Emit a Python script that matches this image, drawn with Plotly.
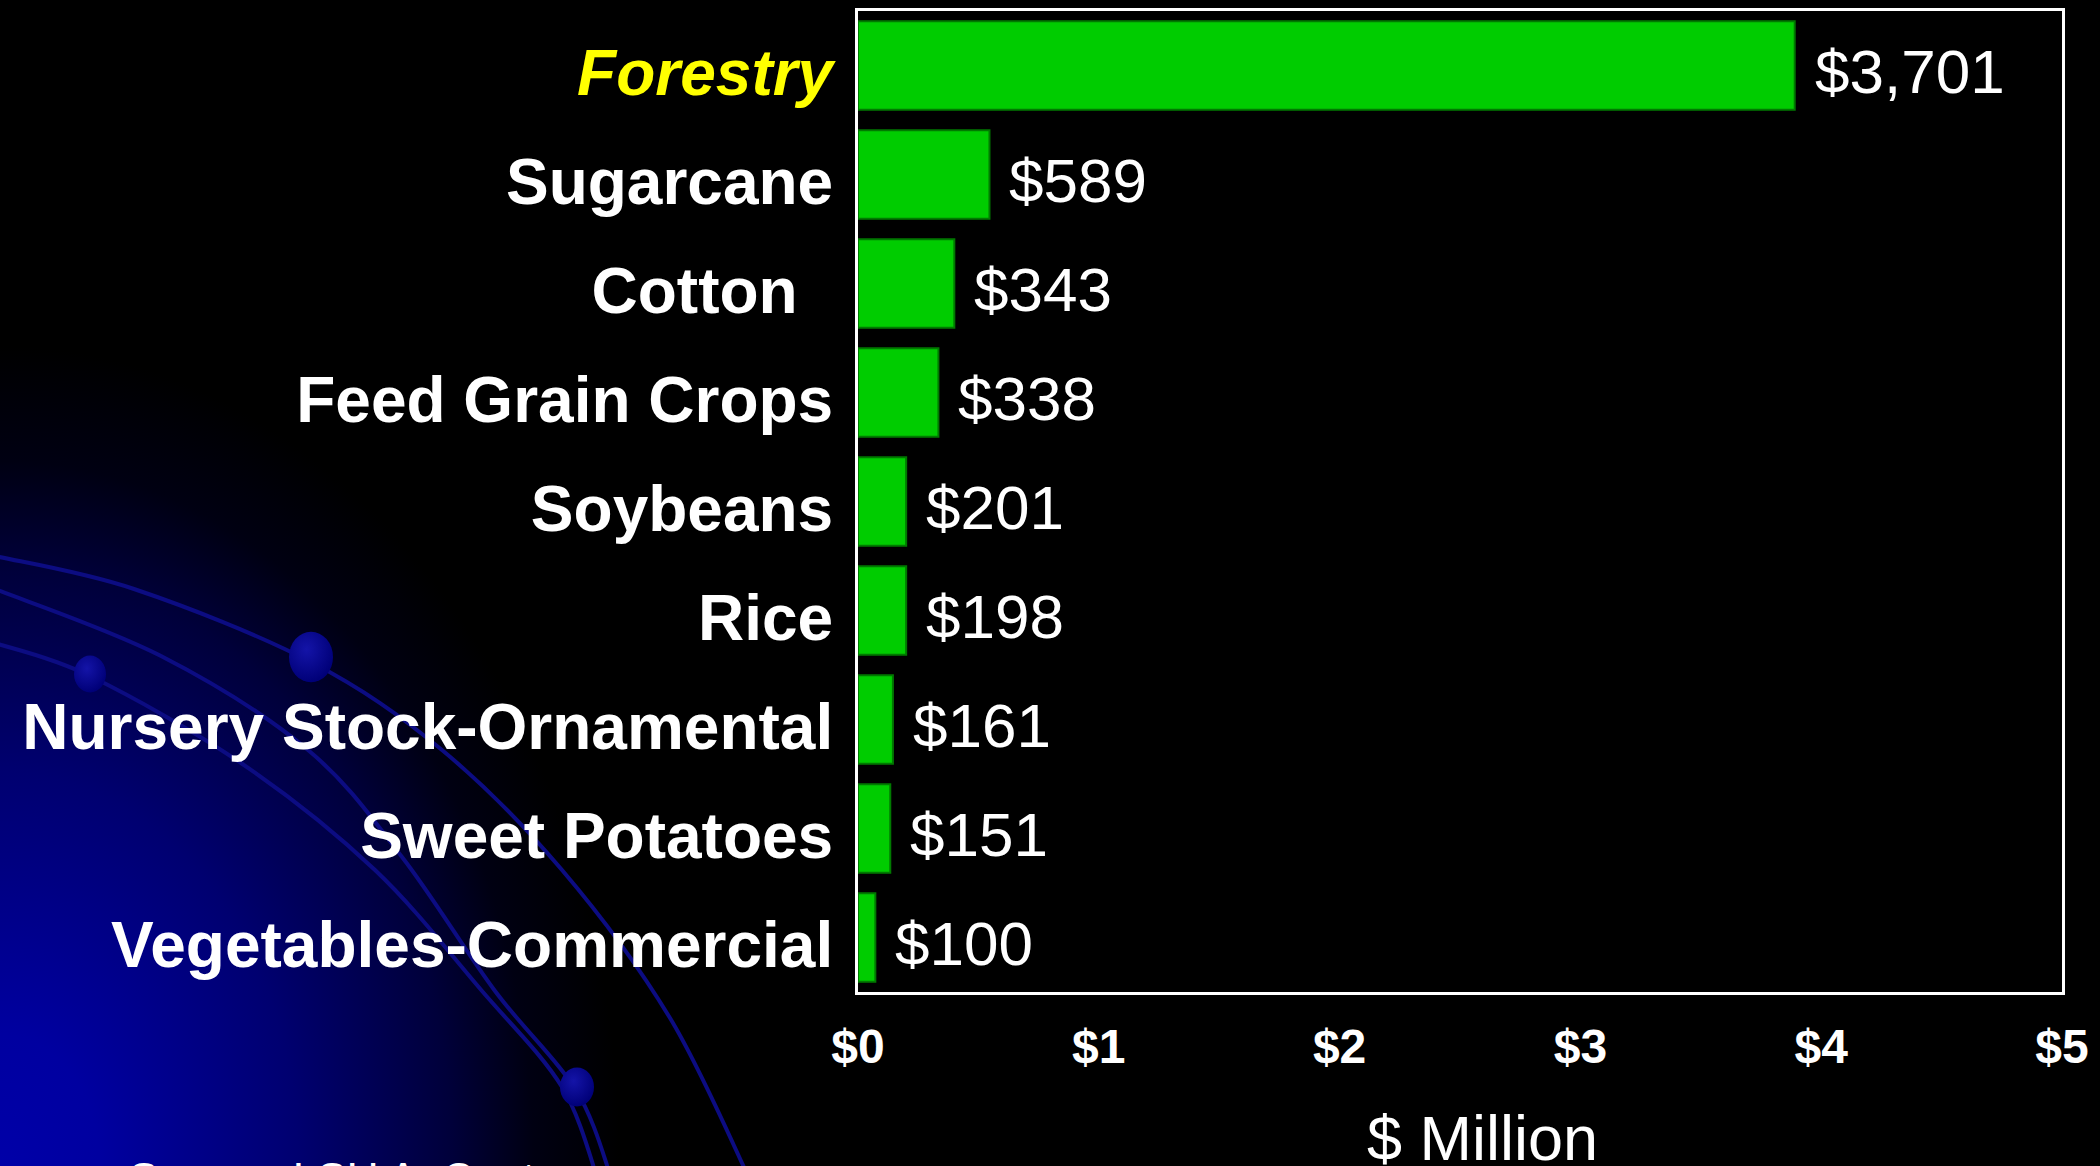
import base64
import plotly.graph_objects as go

# ---------------- data ----------------
categories = ["Forestry", "Sugarcane", "Cotton", "Feed Grain Crops", "Soybeans", "Rice",
              "Nursery Stock-Ornamental", "Sweet Potatoes", "Vegetables-Commercial"]
# bar lengths as drawn on the $ axis
bar_lengths = [3.89, 0.546, 0.40, 0.334, 0.20, 0.20, 0.145, 0.134, 0.072]
value_labels = ["$3,701", "$589", "$343", "$338", "$201", "$198", "$161", "$151", "$100"]
x_tick_vals = [0, 1, 2, 3, 4, 5]
x_tick_text = ["$0", "$1", "$2", "$3", "$4", "$5"]
axis_title = "$ Million"
source_text = "Source: LSU AgCenter"

W, H = 2100, 1166
ML, MR, MT, MB = 858, 38, 11, 174
PW, PH = W - ML - MR, H - MT - MB

FONT = "Liberation Sans, Arial, sans-serif"

# ---------------- decorative background (SVG) ----------------
def catmull(points):
    d = f"M{points[0][0]},{points[0][1]}"
    for i in range(len(points) - 1):
        p0 = points[i - 1] if i > 0 else points[i]
        p1 = points[i]
        p2 = points[i + 1]
        p3 = points[i + 2] if i + 2 < len(points) else points[i + 1]
        c1 = (p1[0] + (p2[0] - p0[0]) / 6, p1[1] + (p2[1] - p0[1]) / 6)
        c2 = (p2[0] - (p3[0] - p1[0]) / 6, p2[1] - (p3[1] - p1[1]) / 6)
        d += f" C{c1[0]:.1f},{c1[1]:.1f} {c2[0]:.1f},{c2[1]:.1f} {p2[0]},{p2[1]}"
    return d

curves = [
    [(-5, 556), (134, 589), (311, 662), (442, 750), (562, 870), (670, 1018), (750, 1180)],
    [(-5, 589), (161, 656), (308, 750), (402, 857), (495, 991), (576, 1090), (612, 1180)],
    [(-5, 643), (90, 676), (241, 763), (375, 870), (482, 991), (562, 1087), (598, 1180)],
]
balls = [(90, 674, 16), (311, 657, 22), (577, 1087, 17)]

RX, RY = 620, 820
svg = [f'<svg xmlns="http://www.w3.org/2000/svg" width="{W}" height="{H}" viewBox="0 0 {W} {H}" preserveAspectRatio="none">',
       '<defs>',
       f'<radialGradient id="g" gradientUnits="userSpaceOnUse" cx="0" cy="0" r="1" '
       f'gradientTransform="translate(0,{H}) scale({RX},{RY})">',
       '<stop offset="0" stop-color="#0000A8"/>',
       '<stop offset="0.16" stop-color="#0000A0"/>',
       '<stop offset="0.48" stop-color="#000070"/>',
       '<stop offset="0.73" stop-color="#00003A"/>',
       '<stop offset="0.86" stop-color="#000012"/>',
       '<stop offset="1" stop-color="#000000"/>',
       '</radialGradient>',
       '<radialGradient id="b" cx="0.4" cy="0.35" r="0.65">',
       '<stop offset="0" stop-color="#1414A8"/>',
       '<stop offset="1" stop-color="#000078"/>',
       '</radialGradient>',
       '</defs>',
       f'<rect x="0" y="0" width="{W}" height="{H}" fill="#000000"/>',
       f'<rect x="0" y="0" width="{W}" height="{H}" fill="url(#g)"/>']
for c in curves:
    svg.append(f'<path d="{catmull(c)}" fill="none" stroke="#0C0C82" stroke-width="4"/>')
for (cx, cy, r) in balls:
    svg.append(f'<ellipse cx="{cx}" cy="{cy}" rx="{r}" ry="{r * 1.15:.1f}" fill="url(#b)"/>')
svg.append('</svg>')
svg_uri = "data:image/svg+xml;base64," + base64.b64encode("".join(svg).encode()).decode()

# ---------------- figure ----------------
tick_text_y = []
for c in categories:
    if c == "Forestry":
        tick_text_y.append('<i><span style="color:#FFFF00">Forestry</span></i>')
    elif c == "Cotton":
        tick_text_y.append("Cotton\u00a0\u00a0")
    else:
        tick_text_y.append(c)

fig = go.Figure()
fig.add_trace(go.Bar(
    y=categories,
    x=bar_lengths,
    orientation="h",
    marker=dict(color="#00CC00", line=dict(color="#007A00", width=2)),
    hoverinfo="skip",
))

value_annotations = [
    dict(x=v, y=c, xref="x", yref="y", text=t, showarrow=False,
         xanchor="left", yanchor="middle", xshift=18, yshift=-6,
         font=dict(family=FONT, size=62, color="#FFFFFF"))
    for c, v, t in zip(categories, bar_lengths, value_labels)
]

title_annotation = dict(
    text=axis_title, xref="paper", yref="paper",
    x=(1482 - ML) / PW, y=-(1138 - MT - PH) / PH,
    xanchor="center", yanchor="middle", showarrow=False,
    font=dict(family=FONT, size=63, color="#FFFFFF"),
)

source_annotation = dict(
    text=source_text, xref="paper", yref="paper",
    x=(127 - ML) / PW, y=-(1152 - MT - PH) / PH,
    xanchor="left", yanchor="top", showarrow=False,
    font=dict(family=FONT, size=44, color="#FFFFFF"),
)

fig.update_layout(
    width=W, height=H,
    margin=dict(l=ML, r=MR, t=MT, b=MB, pad=0, autoexpand=False),
    paper_bgcolor="#000000",
    plot_bgcolor="rgba(0,0,0,0)",
    bargap=0.19,
    showlegend=False,
    font=dict(family=FONT, color="#FFFFFF"),
    xaxis=dict(
        range=[0, 5], automargin=False,
        tickmode="array", tickvals=x_tick_vals, ticktext=x_tick_text,
        tickfont=dict(family=FONT, size=48, color="#FFFFFF", weight="bold"),
        ticks="", ticklabelstandoff=10,
        showgrid=False, zeroline=False,
        showline=True, linecolor="#FFFFFF", linewidth=3, mirror=True,
        fixedrange=True,
    ),
    yaxis=dict(
        categoryorder="array", categoryarray=categories,
        autorange="reversed", automargin=False,
        tickmode="array", tickvals=categories, ticktext=tick_text_y,
        tickfont=dict(family=FONT, size=64, color="#FFFFFF", weight="bold"),
        ticks="", ticklabelstandoff=9, ticklabelshift=-7,
        showgrid=False, zeroline=False,
        showline=True, linecolor="#FFFFFF", linewidth=3, mirror=True,
        fixedrange=True,
    ),
    images=[dict(
        source=svg_uri, xref="paper", yref="paper",
        x=-ML / PW, y=1 + MT / PH, sizex=W / PW, sizey=H / PH,
        xanchor="left", yanchor="top", sizing="stretch", layer="below",
    )],
    annotations=value_annotations + [title_annotation, source_annotation],
)

fig.write_html("out.html", config={"displayModeBar": False},
               post_script="document.body.style.margin='0';document.body.style.overflow='hidden';")
